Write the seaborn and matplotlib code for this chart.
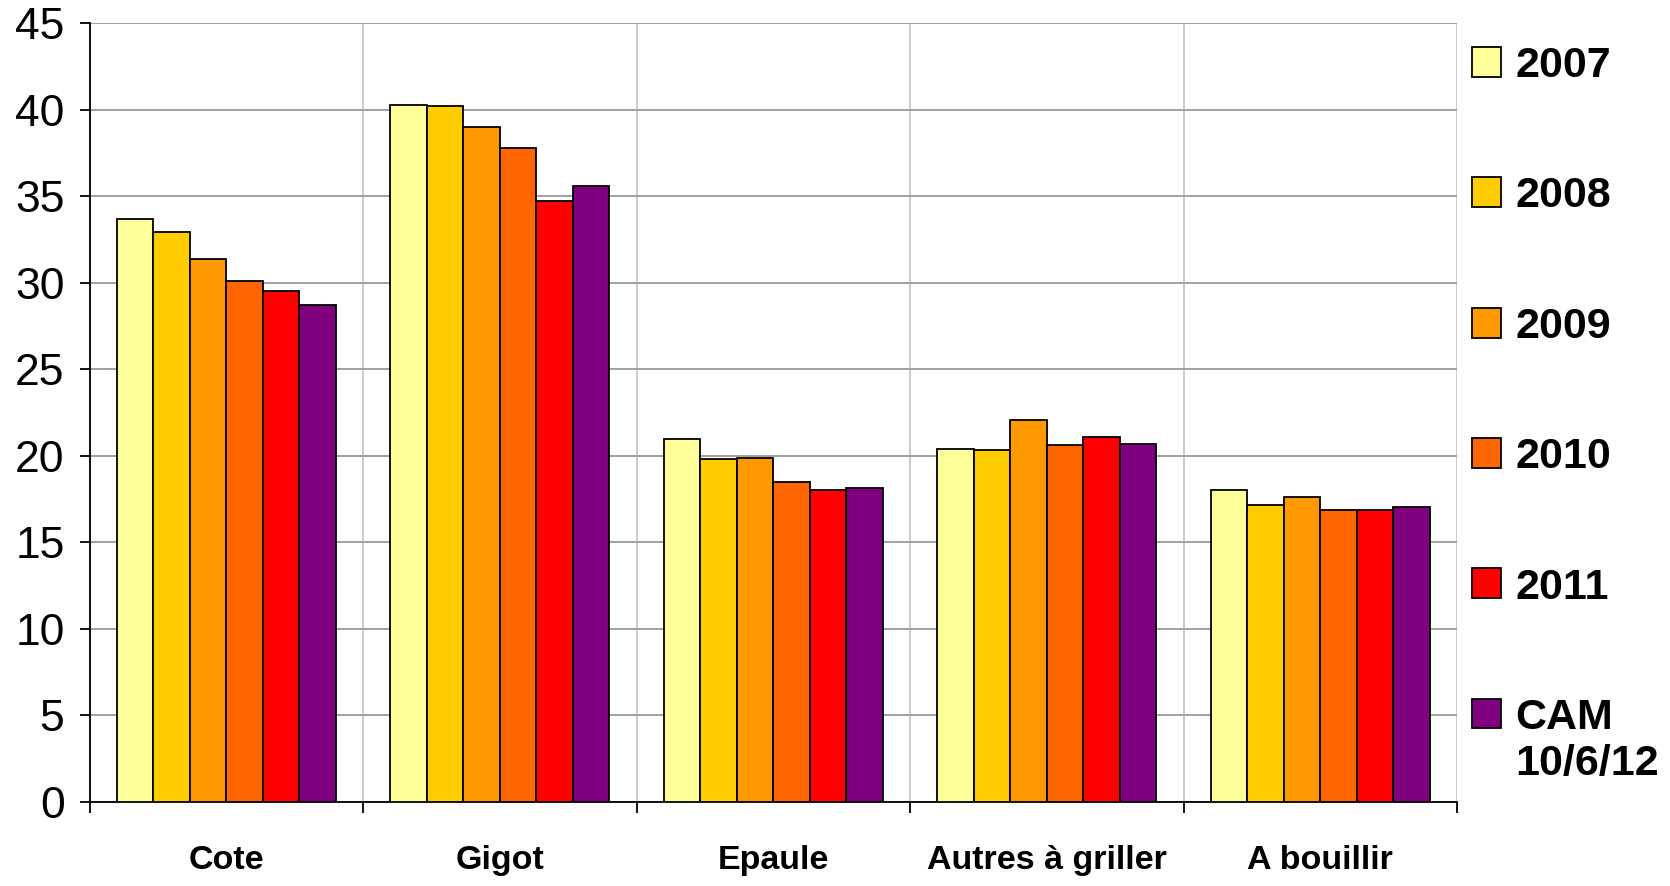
import matplotlib
matplotlib.use("Agg")
import matplotlib.pyplot as plt
from matplotlib.patches import Rectangle
from matplotlib.legend_handler import HandlerPatch
import seaborn as sns
import pandas as pd

categories = ["Cote", "Gigot", "Epaule", "Autres à griller", "A bouillir"]
series = ["2007", "2008", "2009", "2010", "2011", "CAM\n10/6/12"]
v2007 = [33.7, 40.3, 20.97, 20.43, 18.06]
v2008 = [32.95, 40.2, 19.8, 20.33, 17.17]
v2009 = [31.4, 39.0, 19.87, 22.07, 17.6]
v2010 = [30.1, 37.8, 18.49, 20.66, 16.85]
v2011 = [29.54, 34.76, 18.06, 21.08, 16.85]
vcam = [28.7, 35.63, 18.16, 20.68, 17.06]
colors = ["#FFFF99", "#FFCC00", "#FF9900", "#FF6600", "#FF0000", "#800080"]
yticks = [0, 5, 10, 15, 20, 25, 30, 35, 40, 45]

values = [v2007, v2008, v2009, v2010, v2011, vcam]
rows = []
for s, vals in zip(series, values):
    for c, v in zip(categories, vals):
        rows.append({"cat": c, "serie": s, "val": v})
df = pd.DataFrame(rows)

sns.set_theme(style="white")
plt.rcParams["font.family"] = ["Liberation Sans", "DejaVu Sans"]
plt.rcParams["text.color"] = "black"
plt.rcParams["xtick.color"] = "black"
plt.rcParams["ytick.color"] = "black"

fig = plt.figure(figsize=(16.7, 8.86), dpi=100)
ax = fig.add_axes([0.0536, 0.0948, 0.8725 - 0.0536, 0.9736 - 0.0948])

sns.barplot(data=df, x="cat", y="val", hue="serie", order=categories,
            hue_order=series, palette=colors, width=0.8, edgecolor="black",
            linewidth=1.3, saturation=1, ax=ax, legend=False, zorder=3)

ax.set_xlim(-0.5, len(categories) - 0.5)
ax.set_ylim(0, 45)
ax.set_yticks(yticks)
ax.set_yticklabels([str(t) for t in yticks], fontsize=32, color="black")
ax.set_xticks(range(len(categories)))
ax.set_xticklabels(categories, fontsize=24.5, fontweight="bold", color="black")
ax.set_xticks([i - 0.5 for i in range(len(categories) + 1)], minor=True)
ax.tick_params(axis="x", which="major", length=0, pad=31)
ax.tick_params(axis="x", which="minor", length=8, width=1.3, color="black", direction="out", bottom=True)
ax.tick_params(axis="y", which="major", length=7, width=1.3, color="black", direction="out", left=True, pad=11)
ax.set_xlabel("")
ax.set_ylabel("")

ax.grid(axis="y", which="major", color="#a0a0a0", linewidth=1.4, zorder=0)
ax.grid(axis="x", which="minor", color="#c8c8c8", linewidth=1.3, zorder=0)
ax.grid(axis="x", which="major", visible=False)
ax.set_axisbelow(True)

for side in ["top", "right"]:
    ax.spines[side].set_visible(False)
for side in ["left", "bottom"]:
    ax.spines[side].set_color("black")
    ax.spines[side].set_linewidth(1.3)

legend_fs = 31


class OffsetHandler(HandlerPatch):
    def __init__(self, offset=0.0, **kw):
        super().__init__(**kw)
        self.offset = offset

    def create_artists(self, legend, orig_handle, xdescent, ydescent, width, height, fontsize, trans):
        p = Rectangle((-xdescent, -ydescent + self.offset), width, height,
                      facecolor=orig_handle.get_facecolor(), edgecolor="black", linewidth=1.3)
        p.set_transform(trans)
        return [p]


handles = [Rectangle((0, 0), 1, 1, facecolor=c, edgecolor="black") for c in colors]
hmap = {h: OffsetHandler() for h in handles[:-1]}
hmap[handles[-1]] = OffsetHandler(offset=legend_fs * 0.65)
leg = fig.legend(handles, series, loc="upper left", bbox_to_anchor=(0.858, 0.992),
                 frameon=False, prop={"size": legend_fs, "weight": "bold"},
                 handlelength=0.69, handleheight=0.69, handletextpad=0.33,
                 labelspacing=2.1, handler_map=hmap)
for t in leg.get_texts():
    t.set_color("black")

fig.savefig("out.png", dpi=100)
